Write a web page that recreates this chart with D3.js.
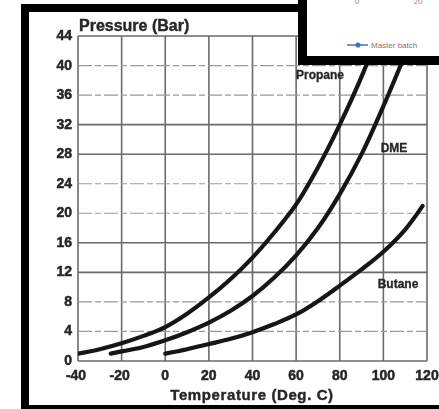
<!DOCTYPE html>
<html>
<head>
<meta charset="utf-8">
<script src="https://cdn.jsdelivr.net/npm/d3@7"></script>
<style>
  body { margin: 0; background: white; }
  svg { display: block; }
</style>
</head>
<body>
<div id="chart"></div>
<script>
    // axis ticks
    var tempTicks = [-40, -20, 0, 20, 40, 60, 80, 100, 120];
    var pressTicks = [0, 4, 8, 12, 16, 20, 24, 28, 32, 36, 40, 44];
    var solidLines = [0, 12, 16, 28, 32, 44];

    // curves (temperature deg C, pressure bar)
    var propaneT = [-40, -30, -20, -10, 0, 10, 20, 30, 40, 50, 60, 70, 80, 90, 100];
    var propaneP = [1.0, 1.6, 2.4, 3.4, 4.6, 6.4, 8.6, 11.1, 14.0, 17.4, 21.2, 26.2, 32.0, 38.5, 46.0];

    var dmeT = [-25, -20, -10, 0, 10, 20, 30, 40, 50, 60, 70, 80, 90, 100, 110, 115];
    var dmeP = [1.0, 1.3, 1.9, 2.8, 3.9, 5.2, 6.8, 8.8, 11.3, 14.3, 18.0, 22.6, 28.0, 34.5, 41.5, 45.0];

    var butaneT = [0, 10, 20, 30, 40, 50, 60, 70, 80, 90, 100, 110, 118];
    var butaneP = [1.0, 1.6, 2.3, 3.0, 3.9, 5.0, 6.3, 8.1, 10.2, 12.4, 14.8, 17.8, 21.0];

    var seriesNames = ["Propane", "DME", "Butane"];

    var ink = "#141414";
    var gridgrey = "#6a6a6a";
    var labelgrey = "#262626";

    const W = 439, H = 409;
    const margin = { top: 36, right: 12, bottom: 48, left: 78 };

    const svg = d3.select("#chart")
      .append("svg")
      .attr("width", W)
      .attr("height", H);

    svg.append("rect").attr("width", W).attr("height", H).attr("fill", "white");

    const x = d3.scaleLinear().domain([-40, 120]).range([margin.left, 427]);
    const y = d3.scaleLinear().domain([0, 44]).range([361, margin.top]);

    // soft scanned look
    const defs = svg.append("defs");
    defs.append("filter").attr("id", "soft")
      .append("feGaussianBlur").attr("stdDeviation", 0.45);
    defs.append("clipPath").attr("id", "plotclip")
      .append("rect")
      .attr("x", x(-40)).attr("y", y(44))
      .attr("width", x(120) - x(-40)).attr("height", y(0) - y(44));

    const g = svg.append("g").attr("filter", "url(#soft)");

    // vertical grid
    g.selectAll(".vgrid")
      .data(tempTicks)
      .enter()
      .append("line")
      .attr("x1", d => x(d)).attr("x2", d => x(d))
      .attr("y1", y(44)).attr("y2", y(0))
      .attr("stroke", gridgrey)
      .attr("stroke-width", 1.6);

    // horizontal grid, some solid some broken
    g.selectAll(".hgrid")
      .data(pressTicks)
      .enter()
      .append("line")
      .attr("x1", x(-40)).attr("x2", x(120))
      .attr("y1", d => y(d)).attr("y2", d => y(d))
      .attr("stroke", d => solidLines.indexOf(d) >= 0 ? gridgrey : "#9a9a9a")
      .attr("stroke-width", d => solidLines.indexOf(d) >= 0 ? 1.6 : 1.2)
      .attr("stroke-dasharray", d => solidLines.indexOf(d) >= 0 ? null : "14,3,6,3");

    // y tick labels
    g.selectAll(".ylab")
      .data(pressTicks)
      .enter()
      .append("text")
      .attr("x", 72)
      .attr("y", d => y(d) + 4)
      .attr("text-anchor", "end")
      .style("font-family", "Liberation Sans, Arial, sans-serif")
      .style("font-weight", "bold")
      .style("font-size", "14px")
      .attr("fill", labelgrey)
      .attr("stroke", labelgrey)
      .attr("stroke-width", 0.5)
      .text(d => d);

    // x tick labels
    g.selectAll(".xlab")
      .data(tempTicks)
      .enter()
      .append("text")
      .attr("x", d => x(d) - (d < 0 ? 2 : 0))
      .attr("y", 380)
      .attr("text-anchor", "middle")
      .style("font-family", "Liberation Sans, Arial, sans-serif")
      .style("font-weight", "bold")
      .style("font-size", "14px")
      .attr("fill", labelgrey)
      .attr("stroke", labelgrey)
      .attr("stroke-width", 0.5)
      .text(d => d);

    // axis titles
    g.append("text")
      .attr("x", 79).attr("y", 31)
      .style("font-family", "Liberation Sans, Arial, sans-serif")
      .style("font-weight", "bold")
      .style("font-size", "16px")
      .attr("fill", labelgrey)
      .attr("stroke", labelgrey)
      .attr("stroke-width", 0.4)
      .text("Pressure (Bar)");

    g.append("text")
      .attr("x", 252).attr("y", 400)
      .attr("text-anchor", "middle")
      .style("font-family", "Liberation Sans, Arial, sans-serif")
      .style("font-weight", "bold")
      .style("font-size", "15px")
      .style("letter-spacing", "0.6px")
      .attr("fill", labelgrey)
      .attr("stroke", labelgrey)
      .attr("stroke-width", 0.4)
      .text("Temperature (Deg. C)");

    // curves
    const line = d3.line()
      .x(d => x(d[0]))
      .y(d => y(d[1]))
      .curve(d3.curveCatmullRom);

    var curves = [
      d3.zip(propaneT, propaneP),
      d3.zip(dmeT, dmeP),
      d3.zip(butaneT, butaneP)
    ];

    g.append("g")
      .attr("clip-path", "url(#plotclip)")
      .selectAll("path")
      .data(curves)
      .enter()
      .append("path")
      .attr("d", line)
      .attr("fill", "none")
      .attr("stroke", ink)
      .attr("stroke-width", 4.2)
      .attr("stroke-linecap", "round");

    // curve names
    var namePos = [[320, 79], [394, 152], [398, 288]];
    g.selectAll(".cname")
      .data(seriesNames)
      .enter()
      .append("text")
      .attr("x", (d, i) => namePos[i][0])
      .attr("y", (d, i) => namePos[i][1])
      .attr("text-anchor", "middle")
      .style("font-family", "Liberation Sans, Arial, sans-serif")
      .style("font-weight", "bold")
      .style("font-size", "12px")
      .attr("fill", labelgrey)
      .attr("stroke", labelgrey)
      .attr("stroke-width", 0.3)
      .text(d => d);

    // black frame of the scanned picture
    svg.append("rect").attr("x", 21).attr("y", 4).attr("width", 8).attr("height", H - 4).attr("fill", "black");
    svg.append("rect").attr("x", 21).attr("y", 4).attr("width", 280).attr("height", 8).attr("fill", "black");
    svg.append("rect").attr("x", 21).attr("y", 405).attr("width", W - 21).attr("height", 4).attr("fill", "black");

    // overlapping box from another chart in the top right corner
    svg.append("rect").attr("x", 298).attr("y", 0).attr("width", W - 298).attr("height", 65).attr("fill", "black");
    svg.append("rect").attr("x", 307).attr("y", 0).attr("width", W - 307).attr("height", 56).attr("fill", "white");

    var boxTicks = ["0", "20"];
    svg.selectAll(".boxtick")
      .data(boxTicks)
      .enter()
      .append("text")
      .attr("x", (d, i) => 357 + i * 61)
      .attr("y", 4)
      .attr("text-anchor", "middle")
      .style("font-family", "Liberation Sans, Arial, sans-serif")
      .style("font-size", "8px")
      .attr("fill", "#8a8a8a")
      .text(d => d);

    svg.append("line")
      .attr("x1", 347).attr("x2", 368).attr("y1", 45).attr("y2", 45)
      .attr("stroke", "#4472c4").attr("stroke-width", 1.5);
    svg.append("circle")
      .attr("cx", 358).attr("cy", 45).attr("r", 2.6)
      .attr("fill", "#4472c4");
    svg.append("text")
      .attr("x", 371).attr("y", 48)
      .style("font-family", "Liberation Sans, Arial, sans-serif")
      .style("font-size", "8px")
      .attr("fill", "#777")
      .text("Master batch");
</script>
</body>
</html>
